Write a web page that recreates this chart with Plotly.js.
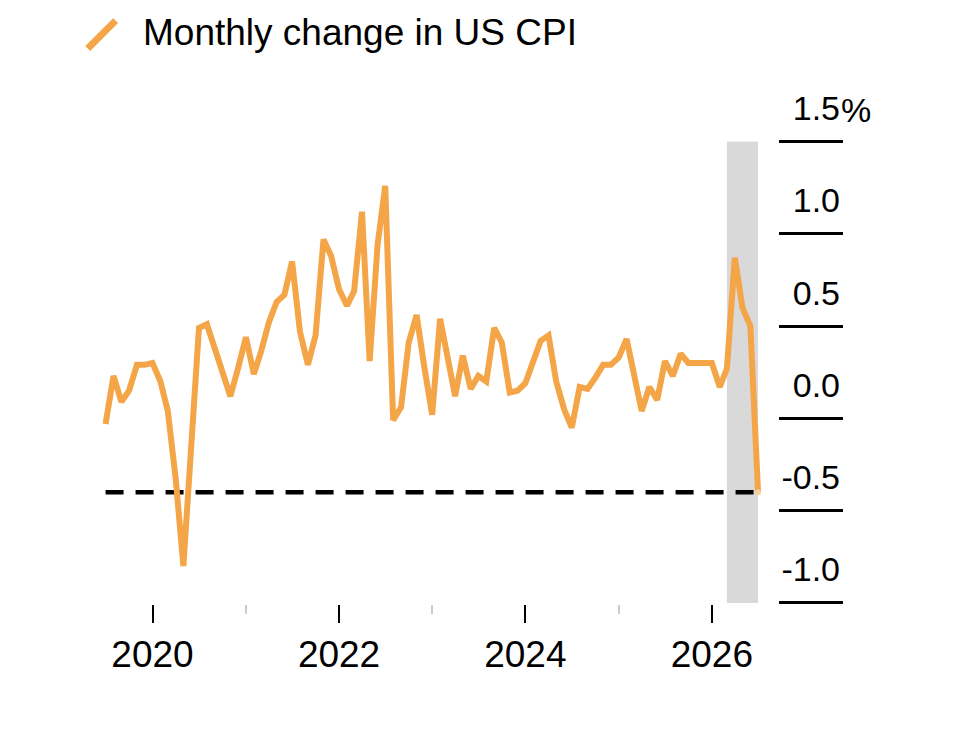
<!DOCTYPE html>
<html>
<head>
<meta charset="utf-8">
<script src="https://cdn.plot.ly/plotly-3.0.1.min.js"></script>
<style>
  html, body { margin: 0; padding: 0; background: #fff; }
  #chart { width: 960px; height: 750px; }
</style>
</head>
<body>
<div id="chart"></div>
<script>
// Monthly change in US CPI, % (Jul 2019 - Jul 2026)
const firstMonth = 7; // series starts in July 2019
const cpi2019 = [-0.03, 0.23, 0.09, 0.15, 0.29, 0.29];
const cpi2020 = [0.30, 0.20, 0.04, -0.33, -0.80, -0.17, 0.49, 0.51, 0.38, 0.25, 0.12, 0.27];
const cpi2021 = [0.44, 0.24, 0.36, 0.52, 0.63, 0.67, 0.85, 0.47, 0.29, 0.45, 0.97, 0.88];
const cpi2022 = [0.70, 0.61, 0.69, 1.12, 0.31, 0.94, 1.26, -0.01, 0.06, 0.41, 0.56, 0.28];
const cpi2023 = [0.02, 0.54, 0.35, 0.12, 0.34, 0.16, 0.23, 0.20, 0.49, 0.41, 0.14, 0.15];
const cpi2024 = [0.19, 0.31, 0.42, 0.45, 0.20, 0.05, -0.05, 0.17, 0.16, 0.22, 0.29, 0.29];
const cpi2025 = [0.33, 0.43, 0.23, 0.04, 0.17, 0.10, 0.31, 0.23, 0.35, 0.30, 0.30, 0.30];
const cpi2026 = [0.30, 0.17, 0.27, 0.87, 0.60, 0.50, -0.40];

const threshold = -0.4;                 // dashed reference level
const shadeStart = '2026-03-01';        // grey highlighted period
const shadeEnd = '2026-07-01';

const yTickVals = [-1.0, -0.5, 0.0, 0.5, 1.0, 1.5];
const yTickText = ['-1.0', '-0.5', '0.0', '0.5', '1.0', '1.5'];
const majorYears = ['2020-01-01', '2022-01-01', '2024-01-01', '2026-01-01'];
const majorLabels = ['2020', '2022', '2024', '2026'];
const minorYears = ['2021-01-01', '2023-01-01', '2025-01-01'];

const legendLabel = 'Monthly change in US CPI';
const orange = '#f4a548';
const font = '"Liberation Sans", Arial, Helvetica, sans-serif';

// build dates + values
const years = [
  [2019, cpi2019], [2020, cpi2020], [2021, cpi2021], [2022, cpi2022],
  [2023, cpi2023], [2024, cpi2024], [2025, cpi2025], [2026, cpi2026]
];
const dates = [];
const values = [];
years.forEach(([yr, arr], i) => {
  const m0 = i === 0 ? firstMonth : 1;
  arr.forEach((v, k) => {
    const m = m0 + k;
    dates.push(`${yr}-${String(m).padStart(2, '0')}-01`);
    values.push(v);
  });
});
const lastDate = dates[dates.length - 1];
const lastVal = values[values.length - 1];

const traces = [
  {
    x: dates, y: values, type: 'scatter', mode: 'lines',
    line: { color: orange, width: 6, shape: 'linear' },
    hoverinfo: 'skip', showlegend: false
  },
  {
    x: [lastDate], y: [lastVal], type: 'scatter', mode: 'markers',
    marker: { color: '#f8cf9c', size: 6 },
    hoverinfo: 'skip', showlegend: false
  }
];

const layout = {
  width: 960, height: 750,
  margin: { l: 90, r: 117, t: 77, b: 146 },
  paper_bgcolor: '#ffffff', plot_bgcolor: '#ffffff',
  font: { family: font, color: '#000', size: 34 },
  showlegend: false,
  xaxis: {
    type: 'date',
    range: ['2019-05-01', '2027-05-30'],
    tickmode: 'array', tickvals: majorYears, ticktext: majorLabels,
    ticks: 'outside', ticklen: 18, tickwidth: 2, tickcolor: '#000',
    tickfont: { size: 37, color: '#000' },
    minor: {
      tickmode: 'array', tickvals: minorYears,
      ticks: 'outside', ticklen: 9, tickwidth: 2, tickcolor: '#cccccc', showgrid: false
    },
    showgrid: false, showline: false, zeroline: false, fixedrange: true
  },
  yaxis: {
    side: 'right',
    range: [-1.006, 1.85],
    tickmode: 'array', tickvals: yTickVals, ticktext: yTickText,
    ticks: 'inside', ticklen: 64, tickwidth: 3, tickcolor: '#000',
    ticklabelposition: 'inside top',
    ticklabelshift: -8,
    tickfont: { size: 34, color: '#000' },
    showgrid: false, showline: false, zeroline: false, fixedrange: true
  },
  shapes: [
    {
      type: 'rect', xref: 'x', yref: 'y', layer: 'below',
      x0: shadeStart, x1: shadeEnd, y0: yTickVals[0], y1: yTickVals[yTickVals.length - 1],
      fillcolor: '#d9d9d9', line: { width: 0 }
    },
    {
      type: 'line', xref: 'x', yref: 'y', layer: 'below',
      x0: dates[0], x1: lastDate, y0: threshold, y1: threshold,
      line: { color: '#000', width: 4.5, dash: '18px,12px' }
    },
    // legend swatch: diagonal stroke
    {
      type: 'line', xref: 'paper', yref: 'paper',
      x0: -0.003, y0: 1.054, x1: 0.034, y1: 1.107,
      line: { color: orange, width: 7 }
    }
  ],
  annotations: [
    {
      xref: 'paper', yref: 'paper', x: 0.068, y: 1.085,
      xanchor: 'left', yanchor: 'middle', showarrow: false,
      text: legendLabel, font: { size: 37, color: '#000' }
    },
    {
      xref: 'paper', yref: 'y', x: 1, y: yTickVals[yTickVals.length - 1],
      xanchor: 'left', yanchor: 'bottom', showarrow: false,
      xshift: -4, yshift: 11,
      text: '%', font: { size: 34, color: '#000' }
    }
  ]
};

Plotly.newPlot('chart', traces, layout, { staticPlot: true, displayModeBar: false });
</script>
</body>
</html>
